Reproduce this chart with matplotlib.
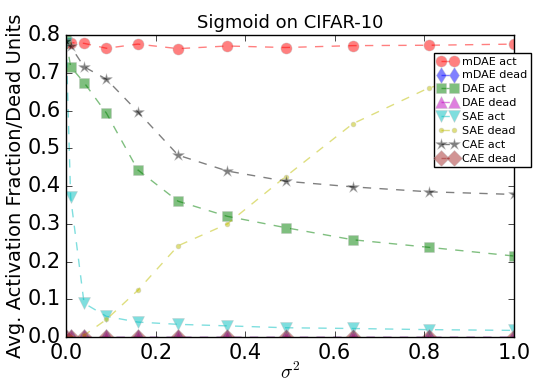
import matplotlib
matplotlib.use('Agg')
import matplotlib.pyplot as plt

# sigma^2 values
sigma2 = [0.0, 0.01, 0.04, 0.09, 0.16, 0.25, 0.36, 0.49, 0.64, 0.81, 1.0]

mdae_act = [0.78, 0.78, 0.778, 0.765, 0.776, 0.764, 0.771, 0.767, 0.772, 0.773, 0.776]
mdae_dead = [0.0] * 11
dae_act = [0.786, 0.716, 0.674, 0.593, 0.443, 0.36, 0.32, 0.29, 0.258, 0.238, 0.215]
dae_dead = [0.0] * 11
sae_act = [0.78, 0.37, 0.09, 0.055, 0.04, 0.034, 0.03, 0.025, 0.023, 0.02, 0.018]
sae_dead = [0.0, 0.0, 0.005, 0.047, 0.124, 0.242, 0.30, 0.425, 0.565, 0.66, 0.72]
cae_act = [0.785, 0.77, 0.716, 0.683, 0.597, 0.482, 0.44, 0.413, 0.398, 0.385, 0.378]
cae_dead = [0.0] * 11

series = [
    ("mDAE act", mdae_act, 'r', 'o', 8),
    ("mDAE dead", mdae_dead, 'b', 'd', 8),
    ("DAE act", dae_act, 'g', 's', 7.5),
    ("DAE dead", dae_dead, 'm', '^', 8),
    ("SAE act", sae_act, 'c', 'v', 8),
    ("SAE dead", sae_dead, 'y', '.', 7),
    ("CAE act", cae_act, 'k', '*', 9),
    ("CAE dead", cae_dead, 'brown', 'D', 8),
]

plt.style.use('classic')
fig = plt.figure(figsize=(5.38, 3.81), dpi=100, facecolor='white')
ax = fig.add_axes([0.123, 0.115, 0.832, 0.793])

for label, vals, color, marker, ms in series:
    ax.plot(sigma2, vals, linestyle='--', color=color, marker=marker,
            markersize=ms, markeredgecolor='0.75', alpha=0.5, label=label)

ax.set_xlim(0, 1.0)
ax.set_ylim(0, 0.8)
ax.set_title("Sigmoid on CIFAR-10", fontsize=13)
ax.set_xlabel(r"$\sigma^2$", fontsize=14, labelpad=-1)
ax.set_ylabel("Avg. Activation Fraction/Dead Units", fontsize=14, labelpad=2)
ax.tick_params(labelsize=15)

ax.legend(loc='upper right', bbox_to_anchor=(1.038, 0.94), borderaxespad=0,
          fontsize=8, numpoints=2, handlelength=1.8, handletextpad=0.4,
          borderpad=0.3, labelspacing=0.35, fancybox=False)

plt.savefig('out.png', dpi=100, facecolor='white')
